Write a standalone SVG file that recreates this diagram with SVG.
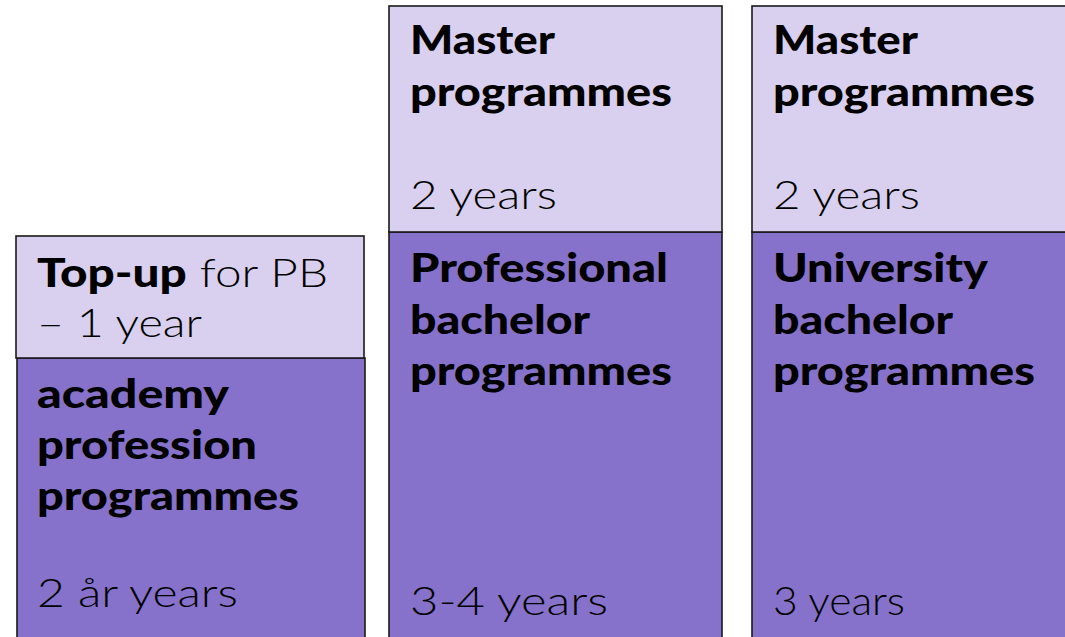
<svg xmlns="http://www.w3.org/2000/svg" width="1065" height="637" viewBox="0 0 1065 637">
<style>
.light{fill:#d8d0ee;stroke:#1a1a1a;stroke-width:1.6}
.dark{fill:#8672ca;stroke:#1a1a1a;stroke-width:1.6}
text{font-family:Lato,"Liberation Sans",sans-serif;font-size:39px;fill:#000}
.b{font-weight:900}
.r{font-weight:300}
</style>
<rect width="1065" height="637" fill="#ffffff"/>
<g id="academy">
<rect class="dark" x="17" y="358" width="348" height="290"/>
<text class="b" x="37" y="408" textLength="192" lengthAdjust="spacingAndGlyphs">academy</text>
<text class="b" x="37" y="459" textLength="220" lengthAdjust="spacingAndGlyphs">profession</text>
<text class="b" x="37" y="510" textLength="262" lengthAdjust="spacingAndGlyphs">programmes</text>
<text class="r" x="37" y="607" textLength="201" lengthAdjust="spacingAndGlyphs">2 år years</text>
</g>
<g id="topup">
<rect class="light" x="16" y="236" width="348" height="122"/>
<text x="37" y="287" textLength="291" lengthAdjust="spacingAndGlyphs"><tspan class="b">Top-up</tspan><tspan class="r"> for PB</tspan></text>
<text class="r" x="37" y="337" textLength="165" lengthAdjust="spacingAndGlyphs">– 1 year</text>
</g>
<g id="prof-bachelor">
<rect class="dark" x="389" y="232" width="333" height="420"/>
<text class="b" x="410" y="282" textLength="258" lengthAdjust="spacingAndGlyphs">Professional</text>
<text class="b" x="410" y="334" textLength="180" lengthAdjust="spacingAndGlyphs">bachelor</text>
<text class="b" x="410" y="385" textLength="262" lengthAdjust="spacingAndGlyphs">programmes</text>
<text class="r" x="410" y="615" textLength="198" lengthAdjust="spacingAndGlyphs">3-4 years</text>
</g>
<g id="master1">
<rect class="light" x="389" y="6" width="333" height="226"/>
<text class="b" x="410" y="54" textLength="145" lengthAdjust="spacingAndGlyphs">Master</text>
<text class="b" x="410" y="106" textLength="262" lengthAdjust="spacingAndGlyphs">programmes</text>
<text class="r" x="410" y="209" textLength="147" lengthAdjust="spacingAndGlyphs">2 years</text>
</g>
<g id="univ-bachelor">
<rect class="dark" x="752" y="232" width="340" height="420"/>
<text class="b" x="773" y="282" textLength="215" lengthAdjust="spacingAndGlyphs">University</text>
<text class="b" x="773" y="334" textLength="180" lengthAdjust="spacingAndGlyphs">bachelor</text>
<text class="b" x="773" y="385" textLength="262" lengthAdjust="spacingAndGlyphs">programmes</text>
<text class="r" x="773" y="615" textLength="132" lengthAdjust="spacingAndGlyphs">3 years</text>
</g>
<g id="master2">
<rect class="light" x="752" y="6" width="340" height="226"/>
<text class="b" x="773" y="54" textLength="145" lengthAdjust="spacingAndGlyphs">Master</text>
<text class="b" x="773" y="106" textLength="262" lengthAdjust="spacingAndGlyphs">programmes</text>
<text class="r" x="773" y="209" textLength="147" lengthAdjust="spacingAndGlyphs">2 years</text>
</g>
<g id="connectors"></g>
</svg>
